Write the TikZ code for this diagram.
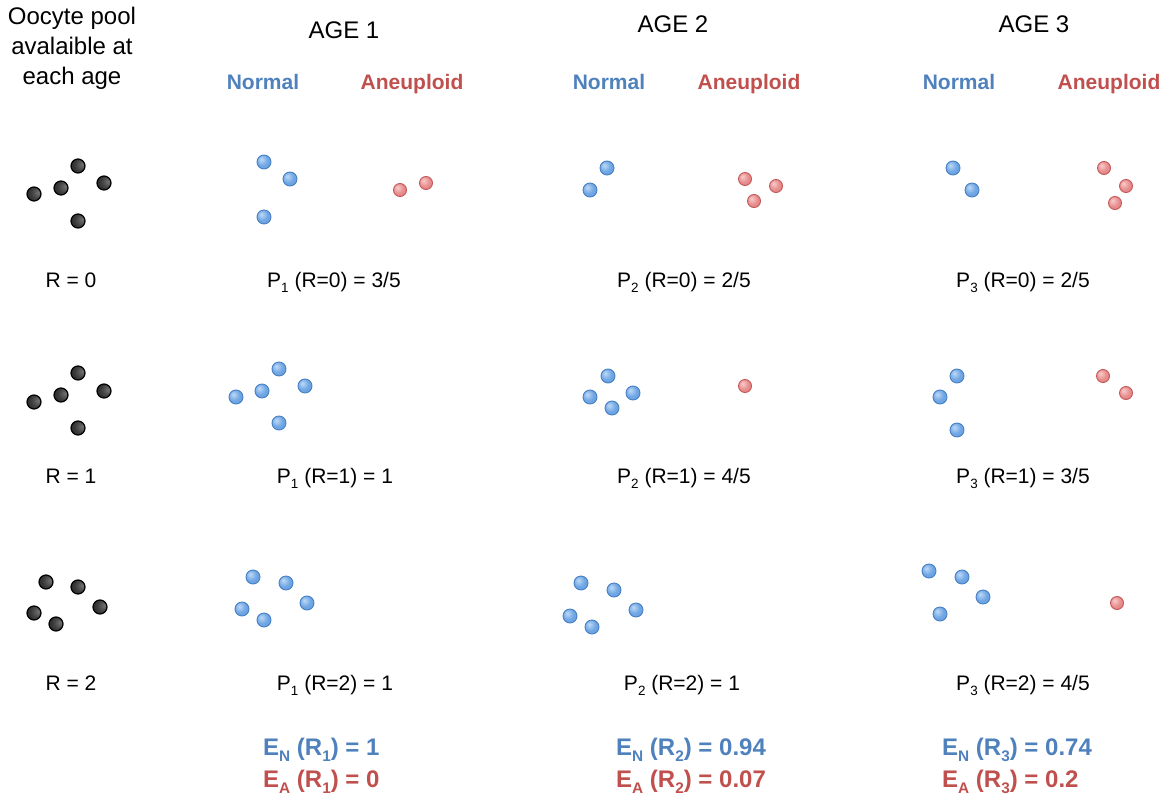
\documentclass[tikz,border=0pt]{standalone}
\usepackage{graphicx}
\usepackage{fontspec}
\setmainfont{Liberation Sans}

\definecolor{normblue}{RGB}{79,129,189}
\definecolor{aneured}{RGB}{192,80,77}
\definecolor{bluehi}{RGB}{190,218,246}
\definecolor{bluemid}{RGB}{112,166,228}
\definecolor{blueedge}{RGB}{92,150,216}
\definecolor{blueline}{RGB}{72,128,196}
\definecolor{redhi}{RGB}{247,204,204}
\definecolor{redmid}{RGB}{232,142,142}
\definecolor{rededge}{RGB}{220,118,118}
\definecolor{redline}{RGB}{196,86,86}
\definecolor{poolhi}{RGB}{115,115,115}
\definecolor{poolmid}{RGB}{60,60,60}
\definecolor{pooledge}{RGB}{22,22,22}

\pgfdeclareradialshading{bluedot}{\pgfpoint{-10bp}{10bp}}{color(0bp)=(bluehi); color(20bp)=(bluemid); color(50bp)=(blueedge); color(70bp)=(blueedge)}
\pgfdeclareradialshading{reddot}{\pgfpoint{-10bp}{10bp}}{color(0bp)=(redhi); color(20bp)=(redmid); color(50bp)=(rededge); color(70bp)=(rededge)}
\pgfdeclareradialshading{pooldot}{\pgfpoint{16bp}{6bp}}{color(0bp)=(poolhi); color(22bp)=(poolmid); color(48bp)=(pooledge); color(70bp)=(pooledge)}

% lowered index as in the figure
\newcommand{\lowsub}[1]{\raisebox{-0.25em}{\scalebox{0.64}{#1}}}

\tikzset{
  head/.style={font=\fontsize{24}{30}\selectfont, anchor=base, inner sep=0pt},
  lbl/.style={font=\fontsize{21}{25}\selectfont, anchor=base, inner sep=0pt},
  kind/.style={font=\fontsize{21}{25}\selectfont\bfseries, anchor=base, inner sep=0pt},
  expv/.style={font=\fontsize{24}{29}\selectfont\bfseries, anchor=base west, inner sep=0pt},
  pooldt/.style={circle, minimum size=14pt, inner sep=0pt, shading=pooldot, draw=black, line width=1.2pt},
  normdt/.style={circle, minimum size=14pt, inner sep=0pt, shading=bluedot, draw=blueline, line width=0.9pt},
  aneudt/.style={circle, minimum size=13pt, inner sep=0pt, shading=reddot, draw=redline, line width=0.9pt}
}

\begin{document}
\begin{tikzpicture}[x=1pt, y=-1pt]
\useasboundingbox (0,0) rectangle (1167,800);

% Headers
\node[head, align=center, anchor=north] (pool) at (72,7) {Oocyte pool\\avalaible at\\each age};
\node[head] (age1) at (344,39) {AGE 1};
\node[head] (age2) at (673,33) {AGE 2};
\node[head] (age3) at (1034,33) {AGE 3};
\node[kind, text=normblue] (norm1) at (263,89) {Normal};
\node[kind, text=aneured] (aneu1) at (412,89) {Aneuploid};
\node[kind, text=normblue] (norm2) at (609,89) {Normal};
\node[kind, text=aneured] (aneu2) at (749,89) {Aneuploid};
\node[kind, text=normblue] (norm3) at (959,89) {Normal};
\node[kind, text=aneured] (aneu3) at (1109,89) {Aneuploid};

% Pool, R = 0
\node[pooldt] (pz1) at (78,166) {};
\node[pooldt] (pz2) at (34,194) {};
\node[pooldt] (pz3) at (61,188) {};
\node[pooldt] (pz4) at (104,183) {};
\node[pooldt] (pz5) at (78,221) {};
\node[lbl] (rz) at (71,287) {R = 0};

% Pool, R = 1
\node[pooldt] (po1) at (78,373) {};
\node[pooldt] (po2) at (34,402) {};
\node[pooldt] (po3) at (61,395) {};
\node[pooldt] (po4) at (104,391) {};
\node[pooldt] (po5) at (78,428) {};
\node[lbl] (ro) at (71,483) {R = 1};

% Pool, R = 2
\node[pooldt] (pt1) at (46,582) {};
\node[pooldt] (pt2) at (78,587) {};
\node[pooldt] (pt3) at (34,613) {};
\node[pooldt] (pt4) at (100,607) {};
\node[pooldt] (pt5) at (56,624) {};
\node[lbl] (rt) at (71,690) {R = 2};

% Age 1
\node[normdt] (n1z1) at (264,162) {};
\node[normdt] (n1z2) at (290,179) {};
\node[normdt] (n1z3) at (264,217) {};
\node[aneudt] (a1z1) at (400,190) {};
\node[aneudt] (a1z2) at (426,183) {};
\node[lbl] (p1z) at (334,287) {P\lowsub{1} (R=0) = 3/5};

\node[normdt] (n1o1) at (279,369) {};
\node[normdt] (n1o2) at (236,397) {};
\node[normdt] (n1o3) at (262,391) {};
\node[normdt] (n1o4) at (305,386) {};
\node[normdt] (n1o5) at (279,423) {};
\node[lbl] (p1o) at (335,483) {P\lowsub{1} (R=1) = 1};

\node[normdt] (n1t1) at (253,577) {};
\node[normdt] (n1t2) at (286,583) {};
\node[normdt] (n1t3) at (242,609) {};
\node[normdt] (n1t4) at (307,603) {};
\node[normdt] (n1t5) at (264,620) {};
\node[lbl] (p1t) at (335,690) {P\lowsub{1} (R=2) = 1};

% Age 2
\node[normdt] (n2z1) at (607,168) {};
\node[normdt] (n2z2) at (590,190) {};
\node[aneudt] (a2z1) at (745,179) {};
\node[aneudt] (a2z2) at (776,186) {};
\node[aneudt] (a2z3) at (754,201) {};
\node[lbl] (p2z) at (684,287) {P\lowsub{2} (R=0) = 2/5};

\node[normdt] (n2o1) at (608,376) {};
\node[normdt] (n2o2) at (590,397) {};
\node[normdt] (n2o3) at (612,408) {};
\node[normdt] (n2o4) at (633,393) {};
\node[aneudt] (a2o1) at (745,386) {};
\node[lbl] (p2o) at (684,483) {P\lowsub{2} (R=1) = 4/5};

\node[normdt] (n2t1) at (581,583) {};
\node[normdt] (n2t2) at (614,590) {};
\node[normdt] (n2t3) at (570,616) {};
\node[normdt] (n2t4) at (636,610) {};
\node[normdt] (n2t5) at (592,627) {};
\node[lbl] (p2t) at (682,690) {P\lowsub{2} (R=2) = 1};

% Age 3
\node[normdt] (n3z1) at (953,168) {};
\node[normdt] (n3z2) at (972,190) {};
\node[aneudt] (a3z1) at (1104,168) {};
\node[aneudt] (a3z2) at (1126,186) {};
\node[aneudt] (a3z3) at (1115,203) {};
\node[lbl] (p3z) at (1023,287) {P\lowsub{3} (R=0) = 2/5};

\node[normdt] (n3o1) at (957,376) {};
\node[normdt] (n3o2) at (940,397) {};
\node[normdt] (n3o3) at (957,430) {};
\node[aneudt] (a3o1) at (1103,376) {};
\node[aneudt] (a3o2) at (1126,393) {};
\node[lbl] (p3o) at (1023,483) {P\lowsub{3} (R=1) = 3/5};

\node[normdt] (n3t1) at (929,571) {};
\node[normdt] (n3t2) at (962,577) {};
\node[normdt] (n3t3) at (983,597) {};
\node[normdt] (n3t4) at (940,614) {};
\node[aneudt] (a3t1) at (1117,603) {};
\node[lbl] (p3t) at (1023,690) {P\lowsub{3} (R=2) = 4/5};

% Expected values
\node[expv, text=normblue] (en1) at (263,755) {E\lowsub{N} (R\lowsub{1}) = 1};
\node[expv, text=aneured] (ea1) at (263,787) {E\lowsub{A} (R\lowsub{1}) = 0};
\node[expv, text=normblue] (en2) at (616,755) {E\lowsub{N} (R\lowsub{2}) = 0.94};
\node[expv, text=aneured] (ea2) at (616,787) {E\lowsub{A} (R\lowsub{2}) = 0.07};
\node[expv, text=normblue] (en3) at (942,755) {E\lowsub{N} (R\lowsub{3}) = 0.74};
\node[expv, text=aneured] (ea3) at (942,787) {E\lowsub{A} (R\lowsub{3}) = 0.2};
\end{tikzpicture}
\end{document}
